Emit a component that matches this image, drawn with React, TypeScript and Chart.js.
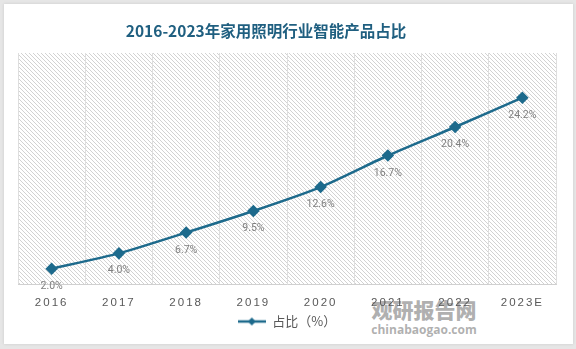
import React, { useEffect, useRef } from "react";
import { Chart, registerables, CategoryScale } from "chart.js";

const categories = ["2016", "2017", "2018", "2019", "2020", "2021", "2022", "2023E"];
const shareValues = [2.0, 4.0, 6.7, 9.5, 12.6, 16.7, 20.4, 24.2];
const valueLabels = ["2.0%", "4.0%", "6.7%", "9.5%", "12.6%", "16.7%", "20.4%", "24.2%"];
const seriesName = "占比（%）";
const titleText = "2016-2023年家用照明行业智能产品占比";

const LINE_COLOR = "#1d6a8c";

class SpacedCategoryScale extends CategoryScale {
  static id = "spacedCategory";
  static defaults = (CategoryScale as any).defaults;
  drawLabels(area: any) {
    const ctx = (this as any).ctx as CanvasRenderingContext2D;
    ctx.save();
    (ctx as any).letterSpacing = "2px";
    // @ts-ignore
    super.drawLabels(area);
    ctx.restore();
  }
}

Chart.register(...registerables, SpacedCategoryScale as any);

function makeHatch(): CanvasPattern | string {
  const c = document.createElement("canvas");
  c.width = 4;
  c.height = 4;
  const g = c.getContext("2d");
  if (!g) return "#f4f4f4";
  g.fillStyle = "#ffffff";
  g.fillRect(0, 0, 4, 4);
  g.fillStyle = "#d2d2d2";
  for (let i = 0; i < 4; i++) g.fillRect(i, i, 1, 1);
  return g.createPattern(c, "repeat") || "#f4f4f4";
}

function makeLegendIcon(): HTMLCanvasElement {
  const c = document.createElement("canvas");
  c.width = 28;
  c.height = 10;
  const g = c.getContext("2d")!;
  g.strokeStyle = LINE_COLOR;
  g.lineWidth = 2.5;
  g.beginPath();
  g.moveTo(0, 5);
  g.lineTo(28, 5);
  g.stroke();
  g.fillStyle = LINE_COLOR;
  g.beginPath();
  g.moveTo(14, 1);
  g.lineTo(18, 5);
  g.lineTo(14, 9);
  g.lineTo(10, 5);
  g.closePath();
  g.fill();
  return c;
}

export default function App() {
  const ref = useRef<HTMLCanvasElement | null>(null);

  useEffect(() => {
    if (!ref.current) return;
    const hatch = makeHatch();
    const icon = makeLegendIcon();

    const hatchPlugin = {
      id: "hatchBg",
      beforeDraw(chart: any) {
        const a = chart.chartArea;
        if (!a) return;
        const ctx = chart.ctx;
        ctx.save();
        ctx.fillStyle = hatch;
        ctx.fillRect(a.left, a.top, a.right - a.left, a.bottom - a.top);
        ctx.restore();
      },
    };

    const titlePlugin = {
      id: "offsetTitle",
      afterDraw(chart: any) {
        const ctx = chart.ctx;
        ctx.save();
        ctx.font = "bold 15.5px 'Noto Sans CJK SC', 'Noto Sans', sans-serif";
        ctx.fillStyle = "#1f5f80";
        ctx.textAlign = "center";
        ctx.textBaseline = "middle";
        ctx.fillText(titleText, 266, 31);
        ctx.restore();
      },
    };

    const labelPlugin = {
      id: "valueLabels",
      afterDatasetsDraw(chart: any) {
        const meta = chart.getDatasetMeta(0);
        const ctx = chart.ctx;
        ctx.save();
        ctx.font = "10.5px Roboto, 'Liberation Sans', sans-serif";
        ctx.fillStyle = "#7f7f7f";
        ctx.textAlign = "center";
        ctx.textBaseline = "middle";
        meta.data.forEach((pt: any, i: number) => {
          ctx.fillText(valueLabels[i], pt.x, pt.y + 17.5);
        });
        ctx.restore();
      },
    };

    const chart = new Chart(ref.current, {
      type: "line",
      data: {
        labels: categories,
        datasets: [
          {
            label: seriesName,
            data: shareValues,
            borderColor: LINE_COLOR,
            backgroundColor: LINE_COLOR,
            borderWidth: 2.5,
            tension: 0.2,
            pointStyle: "rectRot",
            pointRadius: 4.5,
            pointBackgroundColor: LINE_COLOR,
            pointBorderColor: LINE_COLOR,
            fill: false,
          },
        ],
      },
      options: {
        responsive: false,
        animation: false,
        layout: { padding: { left: 18, right: 20, top: 53, bottom: 11 } },
        scales: {
          x: {
            type: "spacedCategory" as any,
            offset: true,
            afterFit: (scale: any) => {
              scale.height = scale.height - 11;
            },
            grid: {
              offset: true,
              color: "#dedede",
              lineWidth: 1,
              drawTicks: false,
            },
            border: { color: "#d0d0d0", width: 1 },
            ticks: {
              padding: 12,
              color: "#595959",
              font: { size: 11.5, family: "'Liberation Sans', Arial, sans-serif" },
              maxRotation: 0,
            },
          },
          y: {
            display: false,
            min: 0,
            max: 30,
          },
        },
        plugins: {
          title: { display: false },
          legend: {
            display: true,
            position: "bottom",
            labels: {
              usePointStyle: true,
              pointStyle: icon as any,
              pointStyleWidth: 28,
              boxHeight: 10,
              color: "#595959",
              font: { size: 13, family: "'Noto Sans CJK SC', sans-serif" },
              padding: 4,
              generateLabels: (ch: any) => [
                {
                  text: seriesName,
                  fillStyle: LINE_COLOR,
                  strokeStyle: LINE_COLOR,
                  pointStyle: icon,
                  lineWidth: 0,
                  datasetIndex: 0,
                  hidden: false,
                  fontColor: "#595959",
                },
              ],
            },
          },
          tooltip: { enabled: false },
        },
      },
      plugins: [hatchPlugin, labelPlugin, titlePlugin],
    });
    return () => chart.destroy();
  }, []);

  return (
    <div style={{ position: "fixed", left: 0, top: 0, width: 576, height: 349, background: "#e6e6e6", overflow: "hidden" }}>
      <div
        style={{
          position: "absolute",
          left: 4,
          top: 4,
          width: 569,
          height: 340,
          background: "#ffffff",
          boxShadow: "0 0 3px rgba(0,0,0,0.12)",
        }}
      />
      <div
        style={{
          position: "absolute",
          left: 368,
          top: 299,
          width: 112,
          textAlign: "center",
          color: "rgba(150,150,150,0.75)",
          fontFamily: "'Noto Sans CJK SC', sans-serif",
          lineHeight: 1,
        }}
      >
        <div style={{ fontSize: 21, fontWeight: 900, letterSpacing: 0 }}>观研报告网</div>
        <div style={{ fontSize: 12, fontWeight: 700, marginTop: 4, fontFamily: "'Open Sans', sans-serif" }}>chinabaogao.com</div>
      </div>
      <canvas ref={ref} width={576} height={349} style={{ position: "absolute", left: 0, top: 0 }} />
    </div>
  );
}
